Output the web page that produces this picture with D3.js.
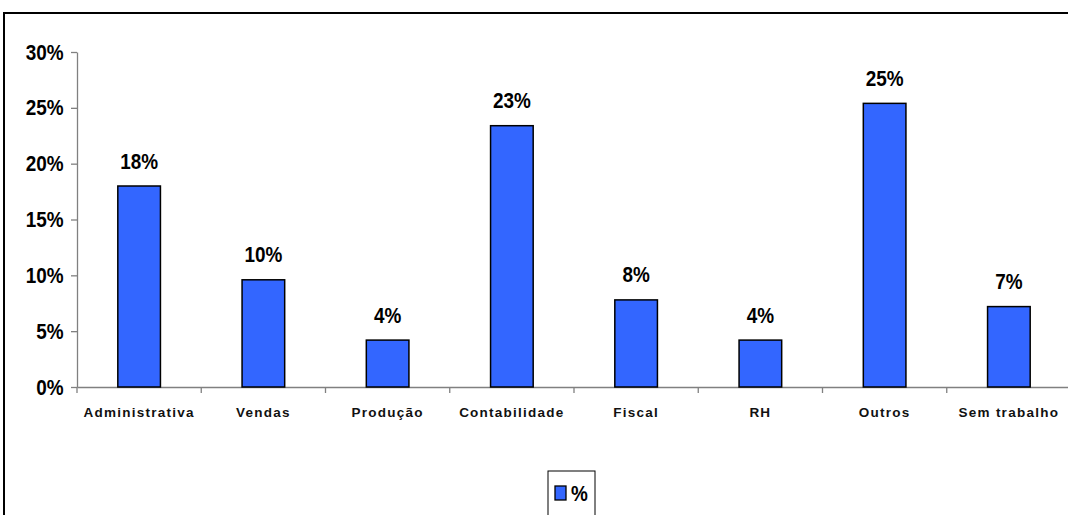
<!DOCTYPE html>
<html>
<head>
<meta charset="utf-8">
<script src="https://cdn.jsdelivr.net/npm/d3@7"></script>
<style>
  html, body { margin: 0; padding: 0; background: #fff; }
  svg { display: block; }
  text { font-family: "Liberation Sans", Arial, sans-serif; }
</style>
</head>
<body>
<svg id="chart" width="1068" height="515"></svg>
<script>
// Setor de atuação (%)
const categories = ["Administrativa", "Vendas", "Produção", "Contabilidade", "Fiscal", "RH", "Outros", "Sem trabalho"];
const values = [0.18, 0.096, 0.042, 0.234, 0.078, 0.042, 0.254, 0.072];
const yTicks = [0, 0.05, 0.10, 0.15, 0.20, 0.25, 0.30];
const seriesName = "%";

const svg = d3.select("#chart");
const W = 1068, H = 515;
const plot = { left: 77, right: 1071, top: 52, bottom: 387 };
const barColor = "#3366FF";
const axisColor = "#808080";
const squeeze = 0.86; // narrow look for the bold numeric labels

// Outer chart frame
svg.append("rect")
  .attr("x", 4).attr("y", 13)
  .attr("width", W + 20).attr("height", H + 20)
  .attr("fill", "none").attr("stroke", "#000").attr("stroke-width", 2);

const x = d3.scaleBand().domain(categories).range([plot.left, plot.right]).padding(0);
const y = d3.scaleLinear().domain([0, 0.30]).range([plot.bottom, plot.top]);
const barW = x.bandwidth() * 0.343;

// Y axis
const yAxis = svg.append("g")
  .attr("transform", `translate(${plot.left},0)`)
  .call(d3.axisLeft(y).tickValues(yTicks).tickFormat(d3.format(".0%")).tickSize(6).tickSizeOuter(0).tickPadding(7));
yAxis.select(".domain").attr("stroke", axisColor).attr("stroke-width", 1.3);
yAxis.selectAll(".tick line").attr("stroke", axisColor).attr("stroke-width", 1.3);
yAxis.selectAll(".tick text")
  .attr("fill", "#000")
  .attr("x", -13.5 / squeeze)
  .attr("transform", `scale(${squeeze},1)`)
  .style("font-size", "22px").style("font-weight", "bold");

// X axis: baseline, category labels, and ticks at band edges
const xAxis = svg.append("g")
  .attr("transform", `translate(0,${plot.bottom})`)
  .call(d3.axisBottom(x).tickSize(0).tickPadding(20));
xAxis.select(".domain").attr("stroke", axisColor).attr("stroke-width", 1.3);
xAxis.selectAll(".tick text")
  .attr("fill", "#111")
  .style("font-size", "13.5px").style("font-weight", "bold")
  .style("letter-spacing", "1.25px");

const edges = categories.map(c => x(c)).concat([x(categories[categories.length - 1]) + x.bandwidth()]);
svg.append("g").selectAll("line").data(edges).join("line")
  .attr("x1", d => d).attr("x2", d => d)
  .attr("y1", plot.bottom).attr("y2", plot.bottom + 6)
  .attr("stroke", axisColor).attr("stroke-width", 1.3);

// Bars
const data = categories.map((c, i) => ({ c, v: values[i] }));
svg.append("g").selectAll("rect").data(data).join("rect")
  .attr("x", d => x(d.c) + (x.bandwidth() - barW) / 2)
  .attr("y", d => y(d.v))
  .attr("width", barW)
  .attr("height", d => y(0) - y(d.v))
  .attr("fill", barColor)
  .attr("stroke", "#000").attr("stroke-width", 1.5);

// Value labels
svg.append("g").selectAll("text").data(data).join("text")
  .attr("transform", d => `translate(${x(d.c) + x.bandwidth() / 2},${y(d.v) - 17.5}) scale(${squeeze},1)`)
  .attr("text-anchor", "middle")
  .style("font-size", "22px").style("font-weight", "bold")
  .text(d => d3.format(".0%")(d.v));

// Legend
const lg = svg.append("g").attr("transform", "translate(548,471)");
lg.append("rect").attr("width", 47).attr("height", 46)
  .attr("fill", "#fff").attr("stroke", "#000").attr("stroke-width", 1);
lg.append("rect").attr("x", 7).attr("y", 15).attr("width", 11).attr("height", 14)
  .attr("fill", barColor).attr("stroke", "#000").attr("stroke-width", 1.3);
lg.append("text")
  .attr("transform", `translate(23,30) scale(${squeeze},1)`)
  .style("font-size", "22px").style("font-weight", "bold")
  .text(seriesName);
</script>
</body>
</html>
